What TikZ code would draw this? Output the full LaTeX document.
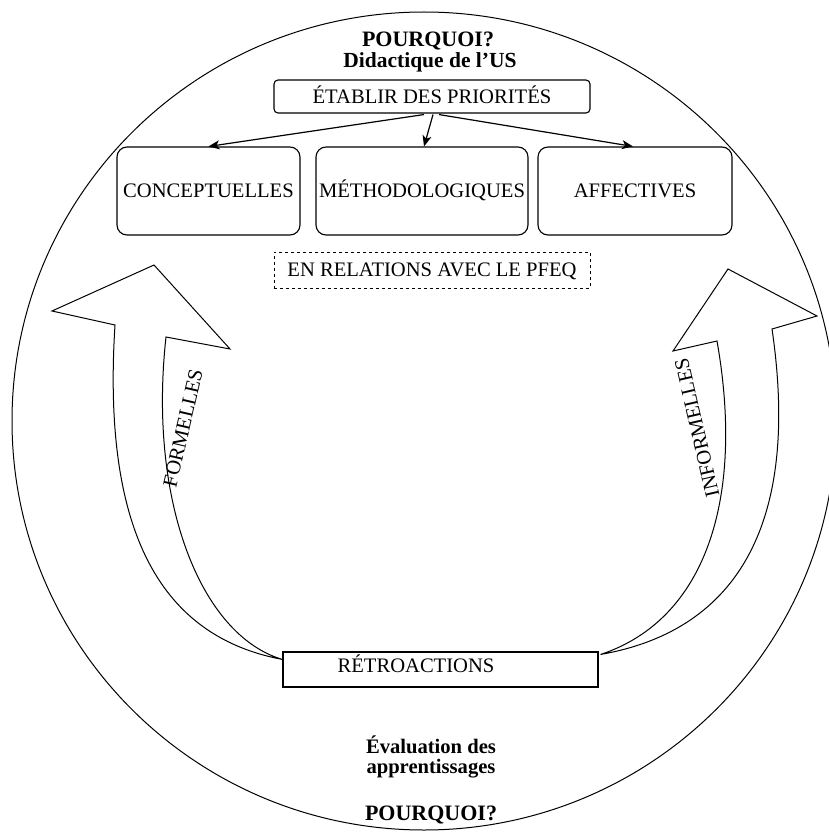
\documentclass[tikz,border=0pt]{standalone}
\usepackage{fontspec}
\setmainfont{Liberation Serif}
\usetikzlibrary{arrows.meta,calc}
\tikzset{
  txt/.style={font=\fontsize{20.6}{24}\selectfont, inner sep=0pt},
  btxt/.style={font=\fontsize{20.6}{24}\selectfont\bfseries, inner sep=0pt},
  bigbox/.style={draw, line width=1.1pt, rounded corners=10pt, txt, text height=13.6pt, text depth=0pt, minimum height=88pt},
  topbox/.style={draw, line width=1.1pt, rounded corners=4pt, txt, text height=13.6pt, text depth=0pt, minimum width=316pt, minimum height=33pt},
  dashbox/.style={draw, dashed, line width=0.9pt, txt, text height=13.6pt, text depth=0pt, minimum width=316pt, minimum height=36pt},
  plainbox/.style={draw, line width=1.1pt, minimum width=315pt, minimum height=35pt, inner sep=0pt},
  conn/.style={line width=1.2pt, -{Stealth[length=11pt,width=9pt,inset=3pt]}},
  blockarrow/.style={line width=1pt, line join=miter},
}
\begin{document}
\begin{tikzpicture}[x=1pt,y=-1pt]
\useasboundingbox (0,0) rectangle (828,832);
\fill[white] (0,0) rectangle (828,832);
% big ellipse
\draw[line width=1pt] (424,421) ellipse [x radius=412, y radius=409];

% top texts
\node[btxt, anchor=base, font=\fontsize{22}{24}\selectfont\bfseries] (why1) at (428,47) {POURQUOI?};
\node[btxt, anchor=base, font=\fontsize{21.5}{24}\selectfont\bfseries] (didac) at (430,68) {Didactique de l'US};

% boxes
\node[topbox] (etab) at (432,96.5) {ÉTABLIR DES PRIORITÉS};
\node[bigbox, minimum width=183pt] (conc) at (208.5,191) {CONCEPTUELLES};
\node[bigbox, minimum width=212pt] (meth) at (422,191) {MÉTHODOLOGIQUES};
\node[bigbox, minimum width=194pt] (aff) at (635,191) {AFFECTIVES};
\node[dashbox] (pfeq) at (432,270) {EN RELATIONS AVEC LE PFEQ};

\draw[conn] ($(etab.south)+(-8,1)$) -- (conc.north);
\draw[conn] ($(etab.south)+(1,1)$) -- ($(meth.north)+(2,0)$);
\draw[conn] ($(etab.south)+(7,1)$) -- ($(aff.north)+(-2,0)$);

% retroactions
\node[plainbox] (retro) at (440.5,669.5) {};
\node[txt, anchor=base] (retrotxt) at (416,672) {RÉTROACTIONS};

\coordinate (lj) at ($(retro.north west)+(0,8)$);
\coordinate (rj) at ($(retro.north east)+(2,3)$);

% left block arrow
\draw[blockarrow] (lj) .. controls (180,640) and (100,560) .. (115,325)
  -- (52,311) -- (154,265) -- (230,349) -- (166,337)
  .. controls (148,500) and (200,635) .. (lj);
% right block arrow
\draw[blockarrow] (rj) .. controls (740,630) and (800,520) .. (772,329)
  -- (817,316) -- (728,269) -- (673,351) -- (717,341)
  .. controls (745,500) and (705,620) .. (rj);

\node[txt, rotate=77] (formel) at (183,428) {FORMELLES};
\node[txt, rotate=103] (informel) at (697,428) {INFORMELLES};

% bottom texts
\node[btxt, anchor=base] (eval1) at (431,753) {Évaluation des};
\node[btxt, anchor=base] (eval2) at (431,773) {apprentissages};
\node[btxt, anchor=base, font=\fontsize{22}{24}\selectfont\bfseries] (why2) at (431,820) {POURQUOI?};
\end{tikzpicture}
\end{document}
